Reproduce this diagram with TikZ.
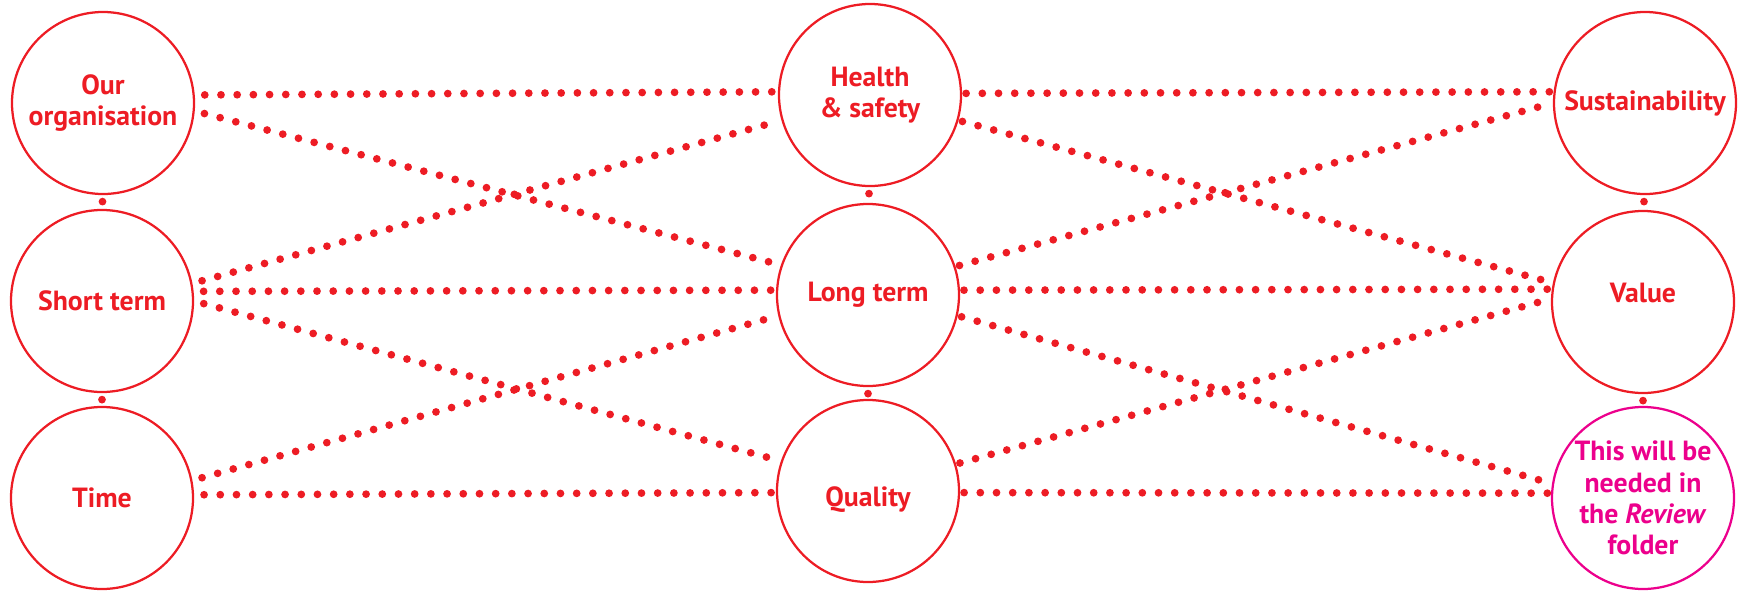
\documentclass[tikz,border=0pt]{standalone}
\usepackage{fontspec}
\setmainfont{PT Sans}
\definecolor{tred}{HTML}{ED1C24}
\definecolor{tpink}{HTML}{EC008C}
\tikzset{
  topic/.style={circle, draw=tred, line width=0.045cm, minimum size=3.64cm, inner sep=0pt,
    align=center, text=tred, font=\fontsize{15.8}{17.8}\selectfont\bfseries},
  dotline/.style={tred, line width=0.155cm, line cap=round, dash pattern=on 0pt off 0.324cm},
  link/.style={dotline, shorten <=0.08cm},
  vlink/.style={dotline, dash phase=0.194cm},
}

\begin{document}
\begin{tikzpicture}
\useasboundingbox (0,0) rectangle (34.86,11.82);

% left column
\node [topic] (org) at (2.06,9.76) {Our\\organisation};
\node [topic] (st) at (2.04,5.80) {Short term};
\node [topic] (time) at (2.04,1.86) {Time};
% middle column
\node [topic] (hs) at (17.40,9.92) {Health\\\& safety};
\node [topic] (lt) at (17.36,5.92) {Long term};
\node [topic] (q) at (17.36,2.00) {\raisebox{-0.18cm}[\height][\depth]{Quality}};
% right column
\node [topic] (sust) at (32.90,9.76) {Sustainability};
\node [topic] (val) at (32.86,5.78) {\raisebox{0.18cm}[\height][\depth]{Value}};
\node [topic, draw=tpink, text=tpink] (rev) at (32.86,1.86) {This will be\\needed in\\the \textit{Review}\\folder};

% columns
\draw [vlink] (org) -- (st);
\draw [vlink] (st) -- (time);
\draw [vlink] (hs) -- (lt);
\draw [vlink] (lt) -- (q);
\draw [vlink] (sust) -- (val);
\draw [vlink] (val) -- (rev);

% left to middle
\begin{scope}[shorten <=0.2cm, shorten >=0.08cm]
\draw [dotline] (org.5.5) -- (hs.178.8);
\draw [dotline] (org.-5.4) -- (lt.161);
\draw [dotline] (st.11.8) -- (hs.196);
\draw [dotline] (st.6) -- (lt.177);
\draw [dotline] (st.0) -- (q.161.4);
\draw [dotline] (time.11) -- (lt.193.6);
\draw [dotline] (time.2.8) -- (q.181);
\end{scope}

% middle to right
\draw [link] (hs.1.2) -- (sust.173.8);
\draw [link] (hs.-16.4) -- (val.168.7);
\draw [link] (lt.18.4) -- (sust.180);
\draw [link] (lt.3) -- (val.172.8);
\draw [link] (lt.-13.7) -- (rev.171);
\draw [link] (q.17.9) -- (val.178.8);
\draw [link] (q.-1.2) -- (rev.177);
\end{tikzpicture}
\end{document}
